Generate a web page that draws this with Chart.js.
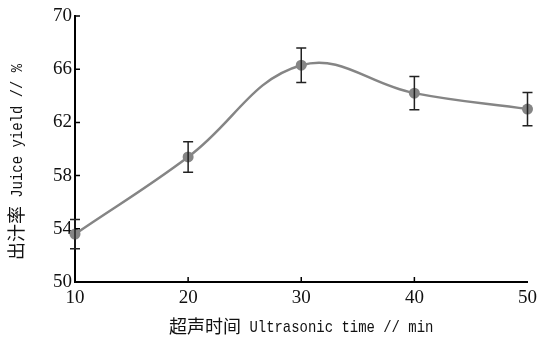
<!DOCTYPE html>
<html>
<head>
<meta charset="utf-8">
<script src="https://cdn.jsdelivr.net/npm/chart.js@4"></script>
<style>
  html, body { margin: 0; padding: 0; background: #fff; }
  #wrap { width: 542px; height: 340px; }
</style>
</head>
<body>
<div id="wrap"><canvas id="chart"></canvas></div>
<script>
// ultrasonic time (min) vs juice yield (%)
const times = [10, 20, 30, 40, 50];
const yieldVals = [53.6, 59.4, 66.3, 64.2, 63.0];
const yieldErr = [1.1, 1.15, 1.3, 1.25, 1.25];
const xTicks = [10, 20, 30, 40, 50];
const yTicks = [50, 54, 58, 62, 66, 70];
const xTitle = ['超声时间', ' Ultrasonic time // min'];
const yTitle = ['出汁率', ' Juice yield // %'];

const labelFont = { family: "'Liberation Serif', 'DejaVu Serif', serif", size: 19 };
const cjkFont = "18px 'Noto Sans CJK SC'";
const latinFont = "17px 'Liberation Mono', monospace";
const latinSqueeze = 0.82;

// draws a title made of a CJK part and a latin part, centred on (0,0)
function drawTitle(ctx, parts) {
    ctx.font = cjkFont;
    var w1 = ctx.measureText(parts[0]).width;
    ctx.font = latinFont;
    var w2 = ctx.measureText(parts[1]).width * latinSqueeze;
    var start = -(w1 + w2) / 2;
    ctx.textBaseline = 'middle';
    ctx.textAlign = 'left';
    ctx.fillStyle = '#111';
    ctx.font = cjkFont;
    ctx.fillText(parts[0], start, 0);
    ctx.save();
    ctx.translate(start + w1, 1);
    ctx.scale(latinSqueeze, 1);
    ctx.font = latinFont;
    ctx.fillText(parts[1], 0, 0);
    ctx.restore();
}

// error bars, inward tick marks and axis titles
const extras = {
    id: 'extras',
    afterDatasetsDraw(chart) {
        const ctx = chart.ctx;
        const x = chart.scales.x, y = chart.scales.y;
        ctx.save();
        ctx.strokeStyle = '#222';
        ctx.lineWidth = 1.5;
        for (var i = 0; i < times.length; i++) {
            var px = x.getPixelForValue(times[i]);
            var top = y.getPixelForValue(yieldVals[i] + yieldErr[i]);
            var bot = y.getPixelForValue(yieldVals[i] - yieldErr[i]);
            ctx.beginPath();
            ctx.moveTo(px, top); ctx.lineTo(px, bot);
            ctx.moveTo(px - 5, top); ctx.lineTo(px + 5, top);
            ctx.moveTo(px - 5, bot); ctx.lineTo(px + 5, bot);
            ctx.stroke();
        }
        ctx.strokeStyle = '#000';
        var ca = chart.chartArea;
        ctx.beginPath();
        for (var j = 1; j < xTicks.length - 1; j++) {
            var tx = x.getPixelForValue(xTicks[j]);
            ctx.moveTo(tx, ca.bottom); ctx.lineTo(tx, ca.bottom - 5);
        }
        for (var k = 1; k < yTicks.length; k++) {
            var ty = y.getPixelForValue(yTicks[k]);
            ctx.moveTo(ca.left, ty); ctx.lineTo(ca.left + 5, ty);
        }
        ctx.stroke();

        ctx.save();
        ctx.translate((ca.left + ca.right) / 2, 326);
        drawTitle(ctx, xTitle);
        ctx.restore();

        ctx.save();
        ctx.translate(16, 162);
        ctx.rotate(-Math.PI / 2);
        drawTitle(ctx, yTitle);
        ctx.restore();
        ctx.restore();
    }
};

new Chart(document.getElementById('chart'), {
    type: 'line',
    data: {
        datasets: [{
            data: times.map(function (t, i) { return { x: t, y: yieldVals[i] }; }),
            borderColor: '#858585',
            backgroundColor: '#858585',
            borderWidth: 2.5,
            pointRadius: 5.5,
            pointBorderWidth: 0,
            tension: 0.4,
            clip: false
        }]
    },
    options: {
        responsive: true,
        maintainAspectRatio: false,
        animation: false,
        events: [],
        layout: { padding: { top: 16, right: 13, left: 0, bottom: 0 } },
        plugins: { legend: { display: false }, tooltip: { enabled: false } },
        scales: {
            x: {
                type: 'linear',
                min: 10, max: 50,
                afterBuildTicks: function (s) { s.ticks = xTicks.map(function (v) { return { value: v }; }); },
                afterFit: function (s) { s.height = 58; },
                grid: { display: false, drawTicks: false },
                border: { display: true, color: '#000', width: 2 },
                ticks: { color: '#111', font: labelFont, padding: 5, maxRotation: 0 }
            },
            y: {
                min: 50, max: 70,
                afterBuildTicks: function (s) { s.ticks = yTicks.map(function (v) { return { value: v }; }); },
                afterFit: function (s) { s.width = 75; },
                grid: { display: false, drawTicks: false },
                border: { display: true, color: '#000', width: 2 },
                ticks: { color: '#111', font: labelFont, padding: 3 }
            }
        }
    },
    plugins: [extras]
});
</script>
</body>
</html>
